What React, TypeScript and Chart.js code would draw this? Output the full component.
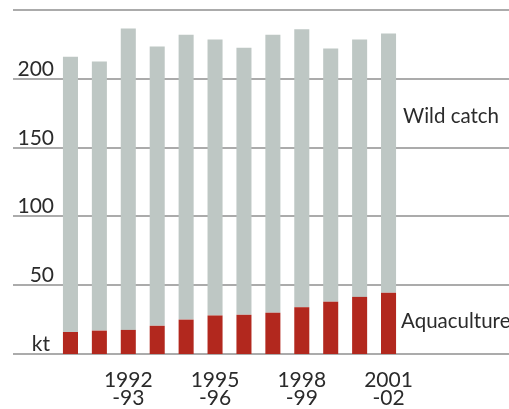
import React, { useEffect, useRef } from "react";
import { Chart, registerables } from "chart.js";

Chart.register(...registerables);

const categories = [
  "1990-91", "1991-92", "1992-93", "1993-94", "1994-95", "1995-96",
  "1996-97", "1997-98", "1998-99", "1999-00", "2000-01", "2001-02",
];
const xTickLabels: string[][] = [
  [], [], ["1992", "-93"], [], [], ["1995", "-96"],
  [], [], ["1998", "-99"], [], [], ["2001", "-02"],
];
const aquaculture = [16, 17, 17.5, 20.5, 25, 28, 28.5, 30, 34, 38, 41.5, 44.5];
const wildCatch = [200, 195.5, 219, 203, 207, 200.5, 194, 202, 202, 184, 187, 188.5];
const yTicks = [0, 50, 100, 150, 200, 250];
const yTickLabels = ["kt", "50", "100", "150", "200", ""];

const FONT = "Lato, 'DejaVu Sans', sans-serif";
const TEXT = "#2b2b2b";
const GRID = "#ababab";
const RED = "#b2281e";
const GREY = "#bec7c4";

const decorPlugin = {
  id: "decor",
  beforeDatasetsDraw(chart: any) {
    const ctx = chart.ctx;
    const y = chart.scales.y;
    ctx.save();
    ctx.strokeStyle = GRID;
    ctx.lineWidth = 2;
    ctx.font = `21px ${FONT}`;
    ctx.fillStyle = TEXT;
    ctx.textAlign = "right";
    ctx.textBaseline = "alphabetic";
    yTicks.forEach((v, i) => {
      const py = Math.round(y.getPixelForValue(v));
      ctx.beginPath();
      ctx.moveTo(13, py);
      ctx.lineTo(509, py);
      ctx.stroke();
      if (yTickLabels[i]) ctx.fillText(yTickLabels[i], v === 0 ? 50 : 54, py - 3);
    });
    ctx.restore();
  },
  afterDraw(chart: any) {
    const ctx = chart.ctx;
    ctx.save();
    ctx.font = `20.5px ${FONT}`;
    ctx.fillStyle = TEXT;
    ctx.textAlign = "left";
    ctx.textBaseline = "alphabetic";
    ctx.fillText("Wild catch", 403, 123);
    ctx.fillText("Aquaculture", 401, 328);
    ctx.restore();
  },
};

export default function App() {
  const ref = useRef<HTMLCanvasElement>(null);
  useEffect(() => {
    if (!ref.current) return;
    const chart = new Chart(ref.current, {
      type: "bar",
      data: {
        labels: categories,
        datasets: [
          { label: "Aquaculture", data: aquaculture, backgroundColor: RED },
          { label: "Wild catch", data: wildCatch, backgroundColor: GREY },
        ],
      },
      options: {
        animation: false,
        responsive: false,
        devicePixelRatio: 1,
        layout: { padding: { left: 56, right: 106, top: 10, bottom: 0 } },
        plugins: { legend: { display: false }, tooltip: { enabled: false } },
        datasets: { bar: { categoryPercentage: 1, barPercentage: 0.52 } },
        scales: {
          x: {
            stacked: true,
            grid: { display: false, drawTicks: false },
            border: { display: false },
            ticks: {
              autoSkip: false,
              maxRotation: 0,
              minRotation: 0,
              padding: 17,
              color: TEXT,
              font: { family: FONT, size: 21, lineHeight: 0.85 },
              callback: (_v: any, i: number) => xTickLabels[i],
            },
            afterFit: (scale: any) => {
              scale.height = 55;
            },
          },
          y: {
            stacked: true,
            display: false,
            min: 0,
            max: 250,
          },
        },
      },
      plugins: [decorPlugin],
    } as any);
    return () => chart.destroy();
  }, []);
  return (
    <div style={{ position: "fixed", left: 0, top: 0, width: 509, height: 409, background: "#fff" }}>
      <canvas ref={ref} width={509} height={409} />
    </div>
  );
}
